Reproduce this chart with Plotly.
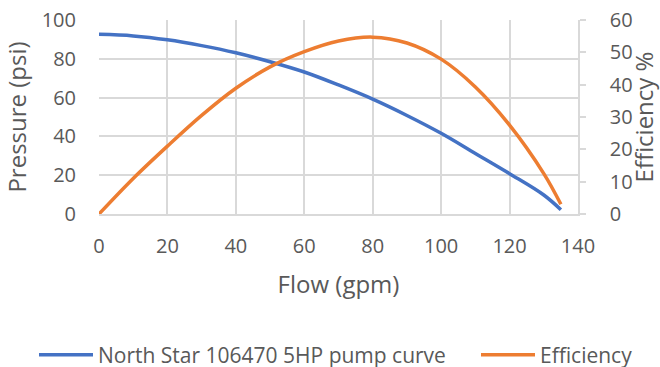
import plotly.graph_objects as go

flow = [0, 10, 20, 30, 40, 50, 60, 70, 80, 90, 100, 110, 120, 130, 135]
pressure = [92.6, 91.8, 89.8, 86.8, 83.1, 78.5, 73.2, 66.5, 59.2, 50.8, 41.6, 31.2, 20.8, 9.8, 2.2]
efficiency = [0, 11.0, 21.0, 30.5, 38.9, 45.5, 50.2, 53.5, 54.7, 52.9, 47.9, 39.3, 27.5, 12.5, 3.0]

blue = '#4472C4'
orange = '#ED7D31'
grid = '#D9D9D9'
txt = '#595959'
font = 'Open Sans'

fig = go.Figure()

fig.add_trace(go.Scatter(
    x=flow, y=pressure, mode='lines', name='North Star 106470 5HP pump curve',
    line=dict(color=blue, width=3.5, shape='spline'), legend='legend', showlegend=True,
))
fig.add_trace(go.Scatter(
    x=flow, y=efficiency, mode='lines', name='Efficiency', yaxis='y2',
    line=dict(color=orange, width=3.5, shape='spline'), legend='legend2', showlegend=True,
))

# one legend per series so the gap between entries can match the original
leg = dict(
    orientation='h', xref='container', yref='container', xanchor='left',
    y=1 - 355 / 367, yanchor='middle',
    font=dict(size=21, color=txt), itemwidth=54, bgcolor='rgba(0,0,0,0)',
)

fig.update_layout(
    width=660, height=367,
    showlegend=True,
    margin=dict(l=99, r=82, t=20, b=153, autoexpand=False),
    paper_bgcolor='white', plot_bgcolor='white',
    font=dict(family=font, size=20, color=txt),
    xaxis=dict(
        range=[0, 140], dtick=20, showgrid=True, gridcolor=grid, gridwidth=1.5,
        showline=True, linecolor=grid, linewidth=1.5, zeroline=False,
        title=dict(text='Flow (gpm)', standoff=18),
        ticks='', ticklabelstandoff=13, automargin=False,
    ),
    yaxis=dict(
        range=[0, 100], dtick=20, showgrid=True, gridcolor=grid, gridwidth=1.5,
        zeroline=False, title=dict(text='Pressure (psi)', standoff=12),
        ticks='', ticklabelstandoff=22, automargin=False,
    ),
    yaxis2=dict(
        range=[0, 60], dtick=10, overlaying='y', side='right', showgrid=False,
        showline=True, linecolor=grid, linewidth=1.5, zeroline=False,
        ticks='outside', ticklen=6, tickcolor=grid, tickwidth=1.5,
        ticklabelstandoff=20, automargin=False,
        title=dict(text='Efficiency %', standoff=45),
    ),
    legend=dict(leg, x=34 / 660),
    legend2=dict(leg, x=476 / 660),
)

fig.write_html("out.html", config={'displayModeBar': False},
               post_script="document.body.style.margin='0';")
